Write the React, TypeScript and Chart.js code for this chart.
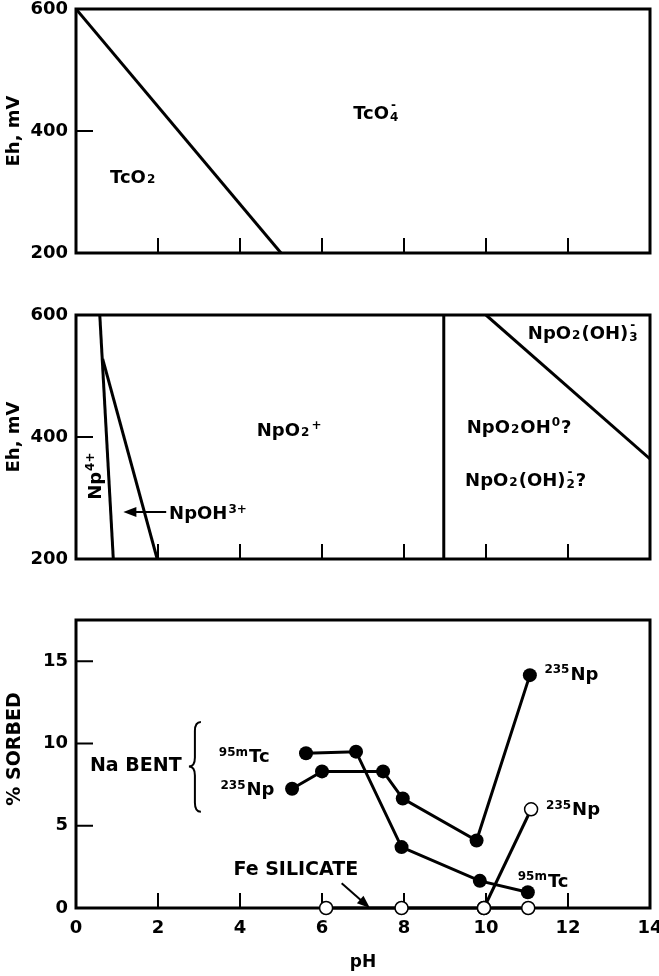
import { useEffect, useRef } from 'react';
import { Chart, registerables } from 'chart.js';

Chart.register(...registerables);

const FONT = '"DejaVu Sans", "Liberation Sans", sans-serif';
const BIG = 18;
const SMALL = 12;
const CAP = 0.729;

// Shared pH axis
const PH_TICKS = [0, 2, 4, 6, 8, 10, 12, 14];
const EH_TICKS = [200, 400, 600];
const SORB_TICKS = [0, 5, 10, 15];

// Tc Eh–pH diagram: TcO2 / TcO4- boundary
const tcBoundaryPH = [0, 5];
const tcBoundaryEh = [600, 200];

// Np Eh–pH diagram boundaries
const np4BoundaryPH = [0.58, 0.91];
const np4BoundaryEh = [600, 200];
const npOHBoundaryPH = [0.65, 1.98];
const npOHBoundaryEh = [528, 200];
const npO2OHBoundaryPH = [8.97, 8.97];
const npO2OHBoundaryEh = [600, 200];
const npO2OH3BoundaryPH = [10, 14];
const npO2OH3BoundaryEh = [600, 364];

// Sorption on Na bentonite (filled) and Fe silicate (open)
const naBentTcPH = [5.61, 6.83, 7.94, 9.85, 11.02];
const naBentTcPct = [9.4, 9.5, 3.7, 1.65, 0.96];
const naBentNpPH = [5.27, 6.0, 7.49, 7.97, 9.77, 11.07];
const naBentNpPct = [7.25, 8.3, 8.3, 6.65, 4.1, 14.15];
const feSilTcPH = [6.1, 7.94, 9.95, 11.03];
const feSilTcPct = [0, 0, 0, 0];
const feSilNpPH = [9.95, 11.1];
const feSilNpPct = [0, 6.0];

type Kind = '' | 'sub' | 'sup' | 'stack';
type Part = [string, Kind];
interface Note { parts: Part[]; ph: number; v: number; rotate?: boolean; size?: number }

const TC_NOTES: Note[] = [
  { parts: [['TcO', ''], ['2', 'sub']], ph: 0.83, v: 326 },
  { parts: [['TcO', ''], ['4|-', 'stack']], ph: 6.76, v: 431 },
];

const NP_NOTES: Note[] = [
  { parts: [['NpO', ''], ['2', 'sub'], ['+', 'sup']], ph: 4.41, v: 413 },
  { parts: [['Np', ''], ['4+', 'sup']], ph: 0.44, v: 297, rotate: true },
  { parts: [['NpOH', ''], ['3+', 'sup']], ph: 2.27, v: 276 },
  { parts: [['NpO', ''], ['2', 'sub'], ['(OH)', ''], ['3|-', 'stack']], ph: 11.02, v: 571 },
  { parts: [['NpO', ''], ['2', 'sub'], ['OH', ''], ['0', 'sup'], ['?', '']], ph: 9.53, v: 418 },
  { parts: [['NpO', ''], ['2', 'sub'], ['(OH)', ''], ['2|-', 'stack'], ['?', '']], ph: 9.49, v: 331 },
];

const SORB_NOTES: Note[] = [
  { parts: [['235', 'sup'], ['Np', '']], ph: 11.4, v: 14.27 },
  { parts: [['235', 'sup'], ['Np', '']], ph: 11.44, v: 6.04 },
  { parts: [['95m', 'sup'], ['Tc', '']], ph: 10.75, v: 1.7 },
  { parts: [['Na BENT', '']], ph: 0.34, v: 8.72, size: 19 },
  { parts: [['95m', 'sup'], ['Tc', '']], ph: 3.46, v: 9.27 },
  { parts: [['235', 'sup'], ['Np', '']], ph: 3.5, v: 7.26 },
  { parts: [['Fe SILICATE', '']], ph: 3.84, v: 2.41, size: 19 },
];

function drawRich(ctx: CanvasRenderingContext2D, x: number, yc: number, parts: Part[], big = BIG, small = SMALL) {
  const yb = yc + (CAP * big) / 2;
  const supBase = yb - CAP * big + CAP * small - 2;
  let cx = x;
  ctx.textAlign = 'left';
  ctx.textBaseline = 'alphabetic';
  for (const [t, k] of parts) {
    if (k === '') {
      ctx.font = `bold ${big}px ${FONT}`;
      ctx.fillText(t, cx, yb);
      cx += ctx.measureText(t).width;
    } else if (k === 'sub') {
      ctx.font = `bold ${small}px ${FONT}`;
      ctx.fillText(t, cx + 1, yb);
      cx += ctx.measureText(t).width + 2;
    } else if (k === 'sup') {
      ctx.font = `bold ${small}px ${FONT}`;
      ctx.fillText(t, cx + 1, supBase);
      cx += ctx.measureText(t).width + 2;
    } else {
      const [lo, hi] = t.split('|');
      ctx.font = `bold ${small}px ${FONT}`;
      ctx.fillText(lo, cx + 1, yb + 2);
      ctx.fillText(hi, cx + 2, yb - CAP * big + 3);
      cx += Math.max(ctx.measureText(lo).width, ctx.measureText(hi).width) + 2;
    }
  }
}

function drawNotes(chart: any, notes: Note[]) {
  const { ctx, scales } = chart;
  ctx.save();
  ctx.fillStyle = '#000';
  for (const n of notes) {
    const px = scales.x.getPixelForValue(n.ph);
    const py = scales.y.getPixelForValue(n.v);
    if (n.rotate) {
      ctx.save();
      ctx.translate(px, py);
      ctx.rotate(-Math.PI / 2);
      drawRich(ctx, 0, 0, n.parts, n.size ?? BIG);
      ctx.restore();
    } else {
      drawRich(ctx, px, py, n.parts, n.size ?? BIG);
    }
  }
  ctx.restore();
}

function drawArrow(ctx: CanvasRenderingContext2D, x1: number, y1: number, x2: number, y2: number) {
  const a = Math.atan2(y2 - y1, x2 - x1);
  const hl = 13;
  const hw = 5;
  const c = Math.cos(a);
  const s = Math.sin(a);
  ctx.save();
  ctx.strokeStyle = '#000';
  ctx.fillStyle = '#000';
  ctx.lineWidth = 2;
  ctx.beginPath();
  ctx.moveTo(x1, y1);
  ctx.lineTo(x2 - c * hl * 0.8, y2 - s * hl * 0.8);
  ctx.stroke();
  ctx.beginPath();
  ctx.moveTo(x2, y2);
  ctx.lineTo(x2 - hl * c + hw * s, y2 - hl * s - hw * c);
  ctx.lineTo(x2 - hl * c - hw * s, y2 - hl * s + hw * c);
  ctx.closePath();
  ctx.fill();
  ctx.restore();
}

function drawBrace(ctx: CanvasRenderingContext2D, x: number, yTop: number, yBot: number, yTip: number) {
  const w = 6;
  const r = 9;
  ctx.save();
  ctx.strokeStyle = '#000';
  ctx.lineWidth = 2;
  ctx.beginPath();
  ctx.moveTo(x + w, yTop);
  ctx.quadraticCurveTo(x, yTop, x, yTop + r);
  ctx.lineTo(x, yTip - r);
  ctx.quadraticCurveTo(x, yTip, x - w, yTip);
  ctx.quadraticCurveTo(x, yTip, x, yTip + r);
  ctx.lineTo(x, yBot - r);
  ctx.quadraticCurveTo(x, yBot, x + w, yBot);
  ctx.stroke();
  ctx.restore();
}

// Box frame plus short inward tick marks
function framePlugin(yTicks: number[]) {
  return {
    id: 'frame',
    beforeDatasetsDraw(chart: any) {
      const { ctx, chartArea: a, scales } = chart;
      ctx.save();
      ctx.strokeStyle = '#000';
      ctx.lineWidth = 3;
      ctx.strokeRect(a.left, a.top, a.right - a.left, a.bottom - a.top);
      ctx.lineWidth = 2;
      ctx.beginPath();
      for (const v of PH_TICKS) {
        const px = scales.x.getPixelForValue(v);
        if (px <= a.left + 2 || px >= a.right - 2) continue;
        ctx.moveTo(px, a.bottom);
        ctx.lineTo(px, a.bottom - 15);
      }
      for (const v of yTicks) {
        const py = scales.y.getPixelForValue(v);
        if (py <= a.top + 2 || py >= a.bottom - 2) continue;
        ctx.moveTo(a.left, py);
        ctx.lineTo(a.left + 17, py);
      }
      ctx.stroke();
      ctx.restore();
    },
  };
}

const tickFont = { family: FONT, weight: 'bold' as const, size: 18, lineHeight: 1 };

function makeScales(yMin: number, yMax: number, yTicks: number[], xAxisH: number, showX: boolean, yTitle: string | null) {
  return {
    x: {
      type: 'linear' as const,
      min: 0,
      max: 14,
      afterBuildTicks: (s: any) => { s.ticks = PH_TICKS.map((v) => ({ value: v })); },
      afterFit: (s: any) => {
        s.height = xAxisH;
        s.paddingLeft = 0;
        s.paddingRight = 0;
      },
      grid: { display: false, drawTicks: false },
      border: { display: false },
      ticks: { display: showX, padding: 11, color: '#000', font: tickFont, maxRotation: 0 },
      title: showX
        ? { display: true, text: 'pH', color: '#000', font: { family: FONT, weight: 'bold' as const, size: 17 }, padding: { top: 0, bottom: 3 } }
        : { display: false },
    },
    y: {
      type: 'linear' as const,
      min: yMin,
      max: yMax,
      afterBuildTicks: (s: any) => { s.ticks = yTicks.map((v) => ({ value: v })); },
      afterFit: (s: any) => {
        s.width = 76;
        s.paddingTop = 0;
        s.paddingBottom = 0;
      },
      grid: { display: false, drawTicks: false },
      border: { display: false },
      ticks: { padding: 8, color: '#000', font: tickFont },
      title: yTitle
        ? { display: true, text: yTitle, color: '#000', font: { family: FONT, weight: 'bold' as const, size: 18 }, padding: { top: 4, bottom: 0 } }
        : { display: false },
    },
  };
}

function pts(xs: number[], ys: number[]) {
  return xs.map((x, i) => ({ x, y: ys[i] }));
}

function boundary(xs: number[], ys: number[]) {
  return { data: pts(xs, ys), showLine: true, borderColor: '#000', borderWidth: 3, pointRadius: 0, tension: 0 };
}

const baseOptions = {
  responsive: false,
  animation: false as const,
  events: [] as any[],
  plugins: { legend: { display: false }, tooltip: { enabled: false } },
};

function tcConfig(): any {
  return {
    type: 'scatter',
    data: { datasets: [boundary(tcBoundaryPH, tcBoundaryEh)] },
    options: {
      ...baseOptions,
      layout: { padding: { top: 9, right: 9, left: 0, bottom: 0 } },
      scales: makeScales(200, 600, EH_TICKS, 37, false, 'Eh, mV'),
    },
    plugins: [framePlugin(EH_TICKS), { id: 'notes', afterDatasetsDraw: (c: any) => drawNotes(c, TC_NOTES) }],
  };
}

function npConfig(): any {
  return {
    type: 'scatter',
    data: {
      datasets: [
        boundary(np4BoundaryPH, np4BoundaryEh),
        boundary(npOHBoundaryPH, npOHBoundaryEh),
        boundary(npO2OHBoundaryPH, npO2OHBoundaryEh),
        boundary(npO2OH3BoundaryPH, npO2OH3BoundaryEh),
      ],
    },
    options: {
      ...baseOptions,
      layout: { padding: { top: 25, right: 9, left: 0, bottom: 0 } },
      scales: makeScales(200, 600, EH_TICKS, 31, false, 'Eh, mV'),
    },
    plugins: [
      framePlugin(EH_TICKS),
      {
        id: 'notes',
        afterDatasetsDraw: (c: any) => {
          drawNotes(c, NP_NOTES);
          const { x, y } = c.scales;
          drawArrow(c.ctx, x.getPixelForValue(2.2), y.getPixelForValue(277), x.getPixelForValue(1.155), y.getPixelForValue(277));
        },
      },
    ],
  };
}

function sorbConfig(): any {
  const open = { showLine: true, borderColor: '#000', borderWidth: 3, pointRadius: 6.5, pointBackgroundColor: '#fff', pointBorderColor: '#000', pointBorderWidth: 1.5, tension: 0, clip: false };
  const filled = { showLine: true, borderColor: '#000', borderWidth: 3, pointRadius: 7, pointBackgroundColor: '#000', pointBorderColor: '#000', pointBorderWidth: 0, tension: 0, clip: false };
  return {
    type: 'scatter',
    data: {
      datasets: [
        { label: 'Fe silicate 95mTc', data: pts(feSilTcPH, feSilTcPct), ...open },
        { label: 'Fe silicate 235Np', data: pts(feSilNpPH, feSilNpPct), ...open },
        { label: 'Na bentonite 95mTc', data: pts(naBentTcPH, naBentTcPct), ...filled },
        { label: 'Na bentonite 235Np', data: pts(naBentNpPH, naBentNpPct), ...filled },
      ],
    },
    options: {
      ...baseOptions,
      layout: { padding: { top: 30, right: 9, left: 0, bottom: 0 } },
      scales: makeScales(0, 17.5, SORB_TICKS, 68, true, null),
    },
    plugins: [
      framePlugin(SORB_TICKS),
      {
        id: 'notes',
        afterDatasetsDraw: (c: any) => {
          const { ctx } = c;
          const { x, y } = c.scales;
          drawNotes(c, SORB_NOTES);
          drawBrace(ctx, x.getPixelForValue(2.9), y.getPixelForValue(11.3), y.getPixelForValue(5.85), y.getPixelForValue(8.6));
          drawArrow(ctx, x.getPixelForValue(6.48), y.getPixelForValue(1.5), x.getPixelForValue(7.17), y.getPixelForValue(0));
          // rotated y-axis title
          ctx.save();
          ctx.translate(15, y.getPixelForValue(9.66));
          ctx.rotate(-Math.PI / 2);
          ctx.fillStyle = '#000';
          ctx.font = `bold 19px ${FONT}`;
          ctx.textAlign = 'center';
          ctx.textBaseline = 'middle';
          ctx.fillText('% SORBED', 0, 0);
          ctx.restore();
        },
      },
    ],
  };
}

function Panel({ top, height, build }: { top: number; height: number; build: () => any }) {
  const ref = useRef<HTMLCanvasElement>(null);
  useEffect(() => {
    const chart = new Chart(ref.current as HTMLCanvasElement, build());
    return () => chart.destroy();
  }, [build]);
  return (
    <canvas
      ref={ref}
      width={659}
      height={height}
      style={{ position: 'absolute', left: 0, top, width: 659, height, display: 'block' }}
    />
  );
}

export default function App() {
  return (
    <div style={{ position: 'absolute', left: 0, top: 0, width: 659, height: 976, background: '#fff' }}>
      <Panel top={0} height={290} build={tcConfig} />
      <Panel top={290} height={300} build={npConfig} />
      <Panel top={590} height={386} build={sorbConfig} />
    </div>
  );
}
